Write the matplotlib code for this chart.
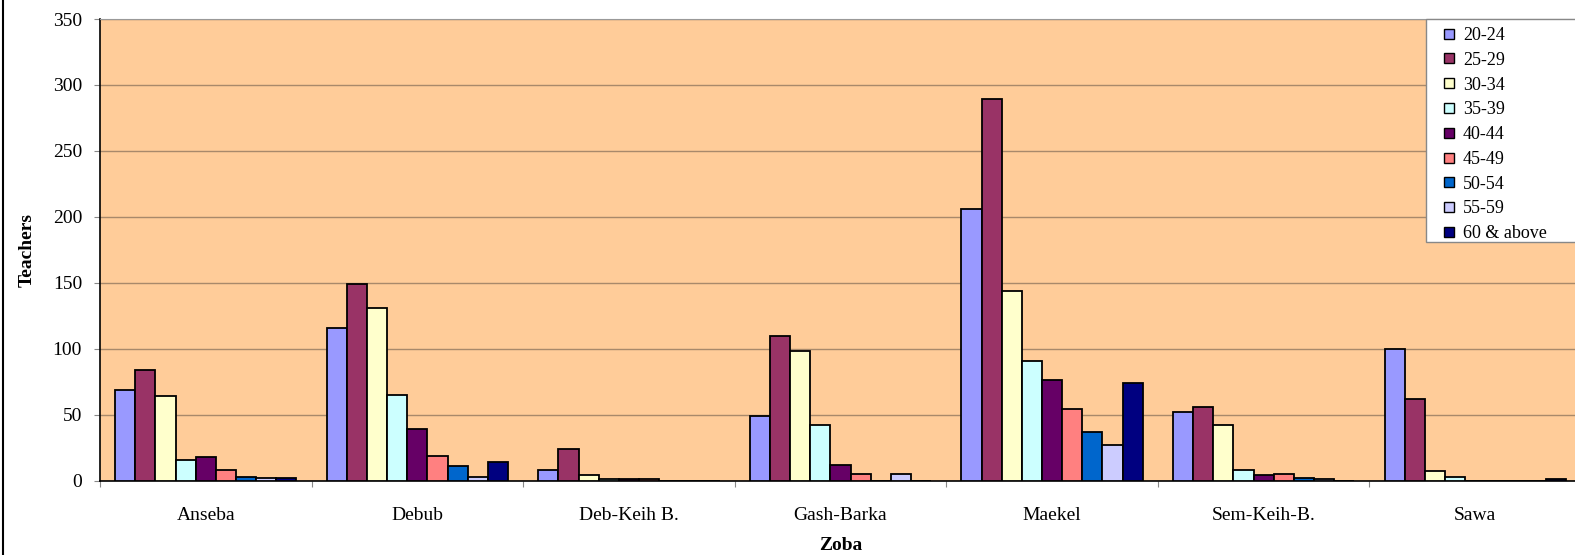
import matplotlib
matplotlib.use("Agg")
import matplotlib.pyplot as plt
import numpy as np
from matplotlib.lines import Line2D
from matplotlib.patches import Rectangle

categories = ["Anseba", "Debub", "Deb-Keih B.", "Gash-Barka", "Maekel", "Sem-Keih-B.", "Sawa"]
series_names = ["20-24", "25-29", "30-34", "35-39", "40-44", "45-49", "50-54", "55-59", "60 & above"]
s_20_24 = [69, 116, 8, 49, 206, 52, 100]
s_25_29 = [84, 149, 24, 110, 289, 56, 62]
s_30_34 = [64, 131, 4, 98, 144, 42, 7]
s_35_39 = [16, 65, 1, 42, 91, 8, 3]
s_40_44 = [18, 39, 1, 12, 76, 4, 0]
s_45_49 = [8, 19, 1, 5, 54, 5, 0]
s_50_54 = [3, 11, 0, 0, 37, 2, 0]
s_55_59 = [2, 3, 0, 5, 27, 1, 0]
s_60_up = [2, 14, 0, 0, 74, 0, 1]
series_values = [s_20_24, s_25_29, s_30_34, s_35_39, s_40_44, s_45_49, s_50_54, s_55_59, s_60_up]
colors = ["#9999FF", "#993366", "#FFFFCC", "#CCFFFF", "#660066", "#FF8080", "#0066CC", "#CCCCFF", "#000080"]
yticks = [0, 50, 100, 150, 200, 250, 300, 350]

plt.rcParams['font.family'] = ['Liberation Serif', 'DejaVu Serif']

W, H = 1575, 555
fig = plt.figure(figsize=(W / 100, H / 100), dpi=100)
ax = fig.add_axes([100 / W, (H - 480.7) / H, (1581 - 100) / W, (480.7 - 19) / H])
ax.set_facecolor("#FFCC99")

n = len(series_names)
bw = 1 / (n + 1.5)
x = np.arange(len(categories))
for i, (name, vals, c) in enumerate(zip(series_names, series_values, colors)):
    ax.bar(x + (i - (n - 1) / 2) * bw, vals, width=bw, color=c, edgecolor="black",
           linewidth=1.3, label=name, zorder=3)

ax.set_xlim(-0.5, len(categories) - 0.5)
ax.set_ylim(0, 350)
ax.set_yticks(yticks)
ax.set_yticklabels([str(v) for v in yticks], fontsize=14)
ax.yaxis.grid(True, color="#a8896b", linewidth=1.0, zorder=1)
ax.set_axisbelow(True)

ax.set_xticks(np.arange(len(categories) + 1) - 0.5)
ax.set_xticklabels([])
ax.set_xticks(x, minor=True)
ax.set_xticklabels(categories, minor=True, fontsize=14)
ax.tick_params(axis='x', which='minor', length=0, pad=19)
ax.tick_params(axis='x', which='major', length=4.3, color="#888888", direction='out')
ax.tick_params(axis='y', length=4.3, color="#888888", pad=8.6)

for side in ["left", "bottom"]:
    ax.spines[side].set_color("black")
    ax.spines[side].set_linewidth(1.2)
ax.spines["top"].set_color("#999999")
ax.spines["right"].set_visible(False)

ax.set_ylabel("Teachers", fontsize=14, fontweight='bold', labelpad=12.5)
ax.set_xlabel("Zoba", fontsize=14, fontweight='bold', labelpad=9.5)

# legend box (extends past the right edge as in the reference)
box = Rectangle((1426 / W, 1 - 242 / H), (1600 - 1426) / W, (242 - 19) / H,
                transform=fig.transFigure, facecolor="white", edgecolor="#888888",
                linewidth=1.0, zorder=9)
fig.add_artist(box)
handles = [Line2D([], [], marker='s', linestyle='none', markersize=6.5,
                  markerfacecolor=c, markeredgecolor='black', markeredgewidth=1.0)
           for c in colors]
leg = ax.legend(handles, series_names, loc='upper left', bbox_to_anchor=(1444 / W, 1 - 27 / H),
                bbox_transform=fig.transFigure, fontsize=13, frameon=False,
                handlelength=0.5, handletextpad=0.55,
                labelspacing=0.43, borderpad=0, borderaxespad=0)
leg.set_zorder(10)
fig.add_artist(leg)

fig.add_artist(Line2D([2.5 / W, 2.5 / W], [0, 1], color="black", linewidth=1.5))

fig.savefig("out.png", dpi=100)
